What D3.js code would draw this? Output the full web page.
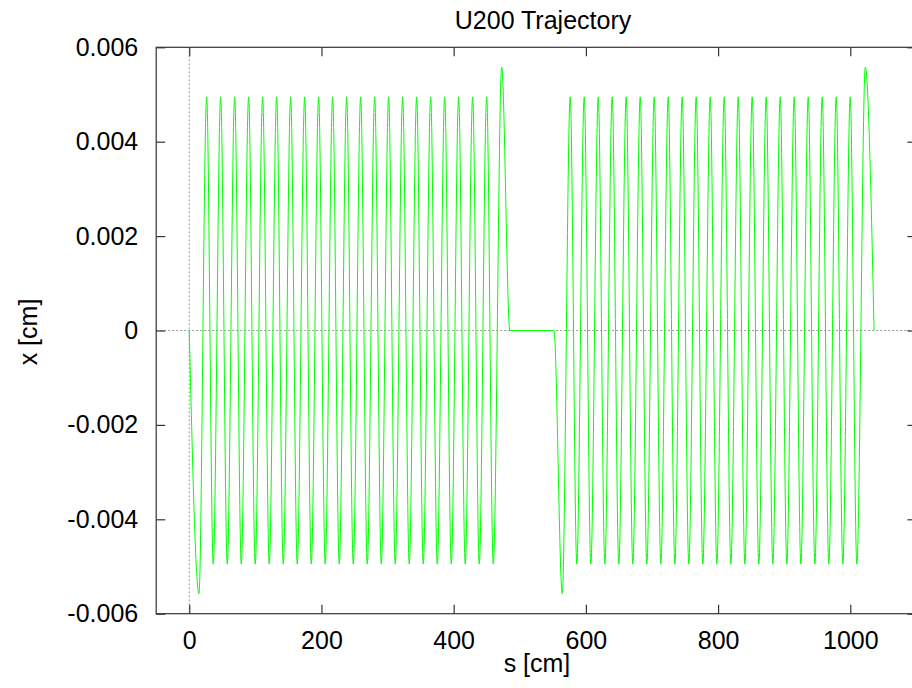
<!DOCTYPE html>
<html>
<head>
<meta charset="utf-8">
<script src="https://cdn.jsdelivr.net/npm/d3@7"></script>
<style>
    body { margin: 0; background: #fff; }
    text { font-family: "Liberation Sans", Arial, Helvetica, sans-serif; fill: #000; }
    .frame { fill: none; stroke: #333; stroke-width: 1.2; }
    .axis line { stroke: #333; stroke-width: 1.2; }
    .axis path { display: none; }
    .axis text { font-size: 25px; }
    .zeroLine { stroke: #999; stroke-width: 1; stroke-dasharray: 2,2; }
    .trajectory { fill: none; stroke: #00ff00; stroke-width: 1; }
</style>
</head>
<body>
<script>
(function(){
    //axis ticks
    var xTicks = [0, 200, 400, 600, 800, 1000];
    var yTicks = [-0.006, -0.004, -0.002, 0, 0.002, 0.004, 0.006];
    var yTickLabels = ["-0.006", "-0.004", "-0.002", "0", "0.002", "0.004", "0.006"];

    //undulator 1: peak and trough positions s [cm]
    var peakS1 = [26.3, 47.5, 68.7, 89.8, 111.0, 132.2, 153.4, 174.6, 195.7, 216.9, 238.1,
        259.3, 280.5, 301.6, 322.8, 344.0, 365.2, 386.4, 407.5, 428.7, 449.9];
    var troughS1 = [36.3, 57.5, 78.7, 99.8, 121.0, 142.2, 163.4, 184.6, 205.7, 226.9, 248.1,
        269.3, 290.5, 311.6, 332.8, 354.0, 375.2, 396.4, 417.5, 438.7, 459.9];

    //undulator 2: peak and trough positions s [cm]
    var peakS2 = [576.3, 597.5, 618.7, 639.8, 661.0, 682.2, 703.4, 724.6, 745.7, 766.9, 788.1,
        809.3, 830.5, 851.6, 872.8, 894.0, 915.2, 936.4, 957.5, 978.7, 999.9];
    var troughS2 = [586.3, 607.5, 628.7, 649.8, 671.0, 692.2, 713.4, 734.6, 755.7, 776.9, 798.1,
        819.3, 840.5, 861.6, 882.8, 904.0, 925.2, 946.4, 967.5, 988.7, 1009.9];

    //amplitude of the regular oscillation x [cm]
    var peakX = 0.00495,
        troughX = -0.00495;

    //entry / exit points (end poles and drift)
    var edgeS = [0, 14.7, 472.6, 485, 551.7, 564.3, 1022.7, 1036];
    var edgeX = [0, -0.00558, 0.00558, 0, 0, -0.00558, 0.00558, 0];

    window.onload = setChart();

    function setChart(){
        var width = 912,
            height = 688;

        var svg = d3.select("body")
            .append("svg")
            .attr("width", width)
            .attr("height", height);

        //scales
        var xScale = d3.scaleLinear()
            .domain([-50, 1100])
            .range([156.2, 916.4]);

        var yScale = d3.scaleLinear()
            .domain([-0.006, 0.006])
            .range([613.7, 47.3]);

        var left = xScale.range()[0],
            right = xScale.range()[1],
            top = yScale.range()[1],
            bottom = yScale.range()[0];

        //zero axes (dotted)
        svg.append("line")
            .attr("class", "zeroLine")
            .attr("x1", left).attr("x2", right)
            .attr("y1", yScale(0)).attr("y2", yScale(0));
        svg.append("line")
            .attr("class", "zeroLine")
            .attr("x1", xScale(0)).attr("x2", xScale(0))
            .attr("y1", top).attr("y2", bottom);

        //build the trajectory points from the arrays
        var points = [];
        peakS1.concat(peakS2).forEach(function(s){ points.push([s, peakX]); });
        troughS1.concat(troughS2).forEach(function(s){ points.push([s, troughX]); });
        edgeS.forEach(function(s, i){ points.push([s, edgeX[i]]); });
        points.sort(function(a, b){ return a[0] - b[0]; });

        var line = d3.line()
            .x(function(d){ return xScale(d[0]); })
            .y(function(d){ return yScale(d[1]); })
            .curve(d3.curveMonotoneX);

        svg.append("path")
            .datum(points)
            .attr("class", "trajectory")
            .attr("d", line);

        //axes, ticks pointing inward like gnuplot
        svg.append("g")
            .attr("class", "axis")
            .attr("transform", "translate(0," + bottom + ")")
            .call(d3.axisBottom(xScale).tickValues(xTicks)
                .tickSizeInner(-9).tickSizeOuter(0).tickPadding(18)
                .tickFormat(d3.format("d")));

        svg.append("g")
            .attr("class", "axis")
            .attr("transform", "translate(0," + top + ")")
            .call(d3.axisTop(xScale).tickValues(xTicks)
                .tickSizeInner(-9).tickSizeOuter(0).tickFormat(""));

        svg.append("g")
            .attr("class", "axis")
            .attr("transform", "translate(" + left + ",0)")
            .call(d3.axisLeft(yScale).tickValues(yTicks)
                .tickSizeInner(-9).tickSizeOuter(0).tickPadding(18)
                .tickFormat(function(d, i){ return yTickLabels[i]; }));

        svg.append("g")
            .attr("class", "axis")
            .attr("transform", "translate(" + right + ",0)")
            .call(d3.axisRight(yScale).tickValues(yTicks)
                .tickSizeInner(-9).tickSizeOuter(0).tickFormat(""));

        //plot border
        svg.append("rect")
            .attr("class", "frame")
            .attr("x", left)
            .attr("y", top)
            .attr("width", right - left)
            .attr("height", bottom - top);

        //title and labels
        svg.append("text")
            .attr("x", 543)
            .attr("y", 29)
            .attr("text-anchor", "middle")
            .style("font-size", "25px")
            .text("U200 Trajectory");

        svg.append("text")
            .attr("x", 537)
            .attr("y", 672)
            .attr("text-anchor", "middle")
            .style("font-size", "25px")
            .text("s [cm]");

        svg.append("text")
            .attr("transform", "translate(28," + 332 + ") rotate(-90)")
            .attr("text-anchor", "middle")
            .attr("dy", "0.35em")
            .style("font-size", "25px")
            .text("x [cm]");
    };
})();
</script>
</body>
</html>
